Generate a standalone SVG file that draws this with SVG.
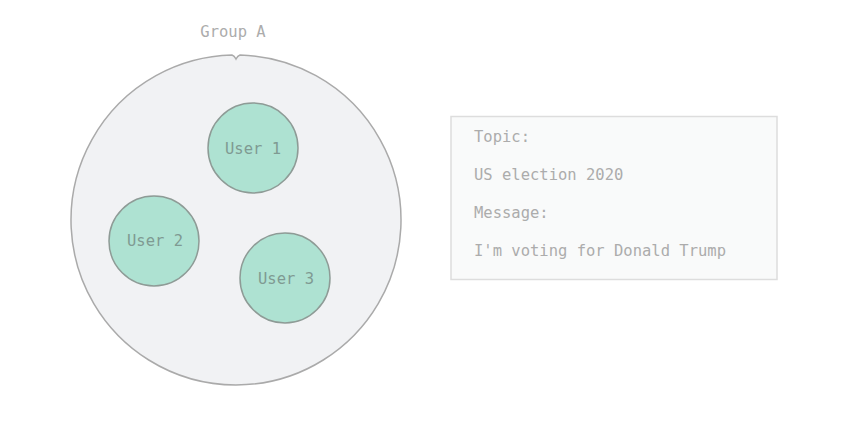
<svg xmlns="http://www.w3.org/2000/svg" width="848" height="424" viewBox="0 0 848 424">
<style>
text{font-family:"DejaVu Sans Mono","Liberation Mono",monospace;font-size:15.5px}
.lbl{fill:#acacac}
.user circle{fill:#aee2d2;stroke:#8e9b96;stroke-width:1.5}
.user text{fill:#7f9a92;text-anchor:middle;dominant-baseline:central}
</style>
<rect width="848" height="424" fill="#ffffff"/>
<g id="groupA">
<path d="M236,59 C237,57 238,55.5 240,55 A165,165 0 1 1 232,55 C234,55.5 235,57 236,59 Z" fill="#f1f2f4" stroke="#aaaaaa" stroke-width="1.5"/>
<text class="lbl" x="233" y="37" text-anchor="middle">Group A</text>
</g>
<g id="user1" class="user"><circle cx="253" cy="148" r="45"/><text x="253" y="149">User 1</text></g>
<g id="user2" class="user"><circle cx="154" cy="241" r="45"/><text x="155" y="241">User 2</text></g>
<g id="user3" class="user"><circle cx="285" cy="278" r="45"/><text x="286" y="279">User 3</text></g>
<g id="message">
<rect x="451" y="116.5" width="326" height="163" fill="#f9fafa" stroke="#dddddd" stroke-width="1.5"/>
<text class="lbl" x="474" y="142">Topic:</text>
<text class="lbl" x="474" y="180">US election 2020</text>
<text class="lbl" x="474" y="218">Message:</text>
<text class="lbl" x="474" y="256">I'm voting for Donald Trump</text>
</g>
<g id="connectors"/>
</svg>
